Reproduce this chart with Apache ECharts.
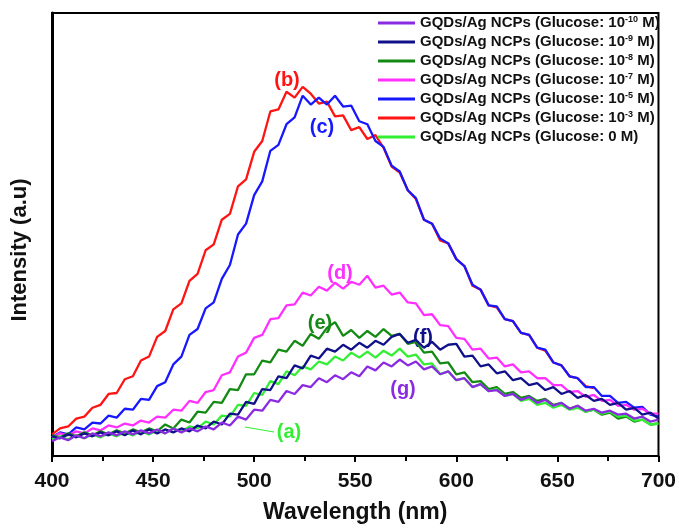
<!DOCTYPE html>
<html>
<head>
<meta charset="utf-8">
<script src="https://cdn.jsdelivr.net/npm/echarts@6/dist/echarts.min.js"></script>
<style>
  html, body { margin: 0; padding: 0; background: #fff; }
  #chart { width: 679px; height: 529px; }
</style>
</head>
<body>
<div id="chart"></div>
<script>
// wavelength grid (nm)
var wavelength = [400,404,408,412,416,420,424,428,432,436,440,444,448,452,456,460,464,468,472,476,
  480,484,488,492,496,500,504,508,512,516,520,524,528,532,536,540,544,548,552,556,
  560,564,568,572,576,580,584,588,592,596,600,604,608,612,616,620,624,628,632,636,
  640,644,648,652,656,660,664,668,672,676,680,684,688,692,696,700];

// intensities (a.u.)
var glucose0 = [17,20,17,21,18,22,19,23,20,24,21,25,22,26,23,28,25,30,28,35,
  32,41,40,52,51,64,62,76,73,86,82,91,88,96,93,101,97,105,100,106,
  100,107,102,109,101,103,93,94,83,86,77,79,70,73,66,68,61,63,56,58,
  52,54,49,52,47,49,45,47,43,45,40,41,36,37,32,33];
var glucose1e3 = [22,28,30,38,40,49,52,63,64,78,81,97,101,121,127,149,155,178,185,209,
  215,240,246,274,281,309,320,350,352,370,364,375,368,358,360,345,346,331,334,322,
  326,313,294,288,270,261,240,236,219,216,200,193,173,169,153,151,139,137,125,123,
  110,107,95,92,81,79,71,69];
var glucose1e5 = [19,24,22,29,27,34,33,41,39,48,47,58,57,71,75,93,101,123,129,150,
  156,180,194,225,236,265,279,310,316,337,344,366,357,364,357,366,355,356,340,337,
  320,314,295,289,270,262,240,236,221,216,200,193,174,169,153,152,139,137,125,123,
  110,108,95,92,81,79,70,70,61,61,54,55,49,50,42,40];
var glucose1e7 = [19,23,21,25,23,28,26,31,29,33,31,36,34,40,39,47,46,56,54,65,
  67,82,85,101,105,120,123,139,140,153,154,166,163,172,168,176,170,177,174,183,
  171,173,164,166,156,155,143,144,133,132,120,119,108,109,99,100,91,93,85,86,
  79,79,72,72,65,66,60,62,56,57,51,52,47,48,43,43];
var glucose1e8 = [21,19,23,20,24,21,25,22,26,23,27,24,28,25,32,28,37,34,45,44,
  55,54,68,67,83,83,97,95,108,106,117,112,124,119,130,136,122,128,120,127,
  121,129,122,124,114,116,105,106,94,95,83,85,75,76,68,70,63,65,59,61,
  56,58,52,54,48,51,45,47,42,44,38,40,35,37,32,33];
var glucose1e9 = [20,18,22,19,23,20,24,21,25,21,26,22,27,23,27,24,28,25,31,28,
  35,32,43,42,55,53,68,67,81,79,92,89,102,99,109,106,113,108,115,110,
  117,113,121,124,115,118,110,116,108,113,114,101,102,91,93,84,86,77,79,72,
  74,67,70,63,66,59,62,56,58,52,54,47,49,42,44,38];
var glucose1e10 = [15,19,16,21,18,23,20,24,21,25,22,26,23,27,23,28,24,28,25,30,
  27,34,31,40,37,47,46,57,55,66,63,72,70,79,75,82,78,85,81,91,
  87,95,91,98,92,96,88,91,83,86,77,79,70,73,66,67,61,63,57,60,
  54,57,51,54,48,51,46,48,44,46,42,43,38,40,35,37];

var seriesNames = [
  'GQDs/Ag NCPs (Glucose: 10{s|-10} M)',
  'GQDs/Ag NCPs (Glucose: 10{s|-9} M)',
  'GQDs/Ag NCPs (Glucose: 10{s|-8} M)',
  'GQDs/Ag NCPs (Glucose: 10{s|-7} M)',
  'GQDs/Ag NCPs (Glucose: 10{s|-5} M)',
  'GQDs/Ag NCPs (Glucose: 10{s|-3} M)',
  'GQDs/Ag NCPs (Glucose: 0 M)'
];
var seriesColors = ['#8a2be2', '#10108a', '#138a13', '#ff30ff', '#1818ff', '#ff1414', '#33ee33'];
var seriesValues = [glucose1e10, glucose1e9, glucose1e8, glucose1e7, glucose1e5, glucose1e3, glucose0];
// drawing order, back to front
var drawOrder = [5, 4, 3, 2, 6, 1, 0];

var font = '"Liberation Sans", Arial, sans-serif';

function pairs(values) {
  return values.map(function (v, i) { return [wavelength[i], v]; });
}

var chart = echarts.init(document.getElementById('chart'), null, { renderer: 'canvas' });

var series = drawOrder.map(function (k) {
  return {
    name: seriesNames[k],
    type: 'line',
    data: pairs(seriesValues[k]),
    symbol: 'none',
    smooth: false,
    lineStyle: { color: seriesColors[k], width: 2.3 },
    itemStyle: { color: seriesColors[k] },
    emphasis: { disabled: true },
    animation: false
  };
});

function tag(text, x, y, color) {
  return {
    type: 'text',
    x: x, y: y,
    style: {
      text: text, fill: color, font: 'bold 20px ' + font,
      align: 'center', verticalAlign: 'middle'
    }
  };
}

chart.setOption({
  animation: false,
  backgroundColor: '#fff',
  grid: {
    left: 52, right: 20, top: 13, bottom: 66,
    show: true, borderColor: '#000', borderWidth: 2
  },
  legend: {
    data: seriesNames,
    orient: 'vertical',
    left: 378, top: 15,
    icon: 'rect',
    itemWidth: 37, itemHeight: 3,
    itemGap: 3,
    padding: 0,
    textStyle: {
      fontFamily: font, fontWeight: 'bold', fontSize: 15, color: '#111',
      lineHeight: 16,
      rich: {
        s: { fontFamily: font, fontWeight: 'bold', fontSize: 9, color: '#111', padding: [0, 0, 7, 0] }
      }
    }
  },
  xAxis: {
    type: 'value',
    min: 400, max: 700, interval: 50,
    name: 'Wavelength (nm)',
    nameLocation: 'middle',
    nameGap: 45,
    nameTextStyle: { fontFamily: font, fontWeight: 'bold', fontSize: 23, color: '#111' },
    axisLine: { lineStyle: { color: '#000', width: 2 } },
    axisTick: { show: true, length: 6, lineStyle: { color: '#000', width: 2 } },
    minorTick: { show: true, splitNumber: 2, length: 5, lineStyle: { color: '#000', width: 2 } },
    splitLine: { show: false },
    axisLabel: { fontFamily: font, fontWeight: 'bold', fontSize: 21, color: '#111', margin: 15 }
  },
  yAxis: {
    type: 'value',
    min: 0, max: 450,
    axisLine: { show: true, lineStyle: { color: '#000', width: 3 } },
    axisTick: { show: false },
    axisLabel: { show: false },
    splitLine: { show: false }
  },
  series: series,
  graphic: [
    {
      type: 'text',
      x: 20, y: 250,
      rotation: Math.PI / 2,
      style: {
        text: 'Intensity (a.u)', fill: '#111', font: 'bold 22px ' + font,
        align: 'center', verticalAlign: 'middle'
      }
    },
    tag('(b)', 287, 80, '#ff1414'),
    tag('(c)', 322, 127, '#1818ff'),
    tag('(d)', 340, 273, '#ff30ff'),
    tag('(e)', 320, 323, '#138a13'),
    tag('(f)', 423, 337, '#10108a'),
    tag('(g)', 403, 389, '#8a2be2'),
    tag('(a)', 289, 432, '#33ee33'),
    {
      type: 'line',
      shape: { x1: 245, y1: 427, x2: 274, y2: 432 },
      style: { stroke: '#33ee33', lineWidth: 1.2 }
    }
  ]
});
</script>
</body>
</html>
